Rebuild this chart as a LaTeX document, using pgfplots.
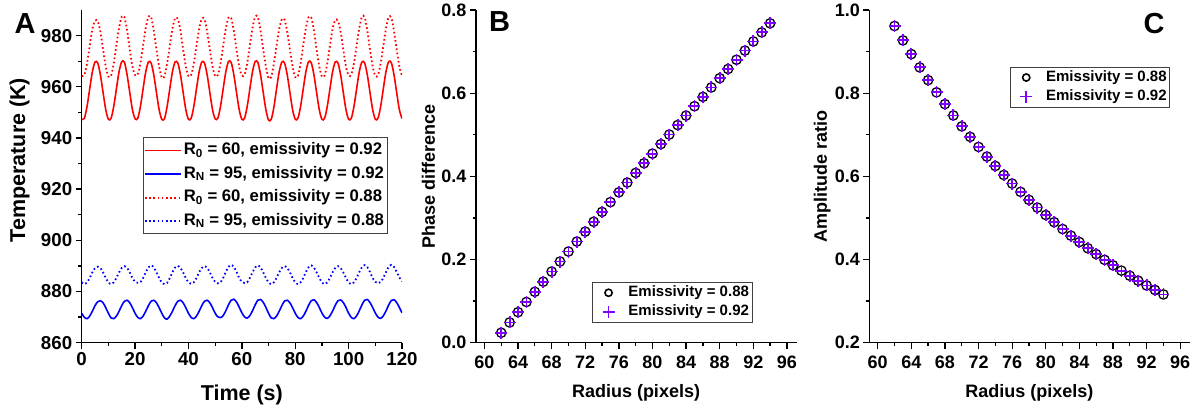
\documentclass[border=0pt]{standalone}
\usepackage{fontspec}
\setmainfont{Liberation Sans}
\usepackage{pgfplots}
\pgfplotsset{compat=1.18}
\usepackage{pgfplotstable}
\definecolor{vio}{RGB}{128,0,255}

\pgfplotstableread{
t r d b e
0 947.3 964.2 871.5 883.6
1 947.7 964.6 869.9 882.9
2 952.3 969.1 869.4 883.6
3 959.2 976.0 870.4 885.3
4 965.9 982.6 872.3 887.5
5 969.7 985.8 874.5 889.2
6 969.3 985.6 876.0 889.7
7 964.7 981.5 876.4 889.2
8 957.8 974.6 875.6 887.5
9 951.1 968.0 873.7 885.3
10 947.3 964.0 871.5 883.6
11 947.7 964.4 869.7 882.9
12 952.3 969.1 869.4 883.6
13 959.2 976.2 870.4 885.3
14 965.9 983.0 872.3 887.5
15 969.8 987.4 874.5 889.2
16 969.6 987.2 876.2 889.9
17 964.7 982.0 876.6 889.2
18 957.8 974.6 875.6 887.5
19 951.1 968.0 873.7 885.3
20 947.5 964.6 871.5 883.8
21 947.7 964.8 869.9 883.4
22 952.3 969.1 869.4 883.6
23 959.2 976.2 870.4 885.3
24 965.9 983.0 872.3 887.5
25 969.7 987.4 874.5 889.4
26 969.3 987.2 876.2 890.2
27 964.7 982.0 876.6 889.4
28 957.8 974.6 875.6 887.5
29 951.1 968.0 873.7 885.3
30 947.3 963.6 871.5 883.6
31 947.5 964.0 869.7 882.9
32 952.3 969.1 869.2 883.4
33 959.2 976.0 870.4 885.3
34 965.9 982.8 872.3 887.5
35 969.7 986.8 874.5 889.4
36 969.3 986.6 876.2 890.0
37 964.7 981.8 876.6 889.2
38 957.8 974.6 875.6 887.5
39 951.1 968.0 873.7 885.3
40 947.3 964.2 871.5 883.6
41 947.7 964.6 869.9 883.0
42 952.3 969.1 869.4 883.6
43 959.2 976.0 870.4 885.3
44 965.9 982.6 872.3 887.5
45 969.7 986.6 874.5 889.2
46 969.3 986.4 876.2 889.9
47 964.7 981.5 876.6 889.2
48 957.8 974.6 875.6 887.5
49 951.1 968.0 873.7 885.3
50 947.5 964.2 871.5 883.8
51 947.7 964.6 870.1 883.2
52 952.3 969.1 869.8 883.6
53 959.2 976.0 870.6 885.3
54 965.9 982.8 872.5 887.7
55 969.9 987.0 874.8 889.6
56 969.5 986.8 876.6 890.4
57 964.7 981.8 877.0 889.6
58 957.8 974.6 875.9 887.7
59 951.1 968.0 873.9 885.3
60 947.3 964.4 871.7 883.8
61 947.7 964.8 870.1 883.3
62 952.3 969.1 869.6 883.6
63 959.2 976.2 870.6 885.3
64 965.9 983.0 872.5 887.5
65 969.9 987.4 874.8 889.4
66 969.5 987.2 876.6 890.2
67 964.7 982.0 876.9 889.4
68 957.8 974.6 875.8 887.5
69 951.1 968.0 873.8 885.3
70 947.0 963.4 871.5 883.6
71 947.3 963.8 869.7 882.9
72 952.0 969.1 869.4 883.6
73 959.2 976.0 870.4 885.3
74 965.9 982.6 872.3 887.5
75 969.7 986.4 874.5 889.2
76 969.3 986.2 876.3 889.9
77 964.7 981.5 876.6 889.2
78 957.8 974.6 875.6 887.5
79 951.1 968.0 873.7 885.3
80 947.3 963.8 871.5 883.6
81 947.7 964.2 869.9 882.9
82 952.3 969.1 869.4 883.6
83 959.2 976.2 870.4 885.3
84 965.9 983.0 872.3 887.6
85 969.8 987.2 874.6 889.5
86 969.4 987.0 876.4 890.2
87 964.7 982.0 876.8 889.4
88 957.8 974.6 875.7 887.5
89 951.1 968.0 873.8 885.3
90 947.3 964.0 871.6 883.6
91 947.7 964.4 870.0 882.9
92 952.3 969.1 869.5 883.6
93 959.2 976.0 870.5 885.3
94 965.9 982.6 872.4 887.5
95 969.7 986.0 874.6 889.2
96 969.3 985.8 876.4 889.9
97 964.7 981.5 876.7 889.2
98 957.8 974.6 875.7 887.5
99 951.1 968.0 873.8 885.3
100 947.3 964.4 871.5 883.6
101 947.7 964.8 869.9 882.9
102 952.3 969.1 869.4 883.6
103 959.2 976.2 870.5 885.3
104 965.9 983.0 872.5 887.6
105 969.7 987.4 874.8 889.5
106 969.3 987.2 876.6 890.3
107 964.7 982.0 876.9 889.5
108 957.8 974.6 875.7 887.6
109 951.1 968.0 873.8 885.3
110 947.3 964.2 871.6 883.8
111 947.7 964.6 870.0 883.2
112 952.3 969.1 869.5 883.7
113 959.2 976.0 870.5 885.3
114 965.9 982.8 872.4 887.6
115 969.8 987.2 874.7 889.6
116 969.4 987.0 876.5 890.4
117 964.7 981.8 876.8 889.6
118 957.8 974.6 875.7 887.7
119 951.1 968.0 873.8 885.5
120 947.6 964.2 871.7 884.0
}\tableA

\pgfplotstableread{
r p a
62 0.0240 0.9615
63 0.0487 0.9270
64 0.0734 0.8939
65 0.0979 0.8620
66 0.1224 0.8314
67 0.1467 0.8020
68 0.1710 0.7737
69 0.1952 0.7464
70 0.2192 0.7202
71 0.2432 0.6950
72 0.2671 0.6708
73 0.2908 0.6475
74 0.3145 0.6250
75 0.3381 0.6034
76 0.3616 0.5827
77 0.3850 0.5627
78 0.4083 0.5434
79 0.4315 0.5249
80 0.4546 0.5070
81 0.4776 0.4898
82 0.5005 0.4733
83 0.5233 0.4573
84 0.5461 0.4420
85 0.5687 0.4272
86 0.5912 0.4130
87 0.6137 0.3992
88 0.6360 0.3860
89 0.6582 0.3733
90 0.6804 0.3610
91 0.7024 0.3491
92 0.7244 0.3377
93 0.7462 0.3267
94 0.7680 0.3161
}\tableBC

\pgfplotsset{
  myax/.style={
    scale only axis,
    anchor=south west,
    height=332.7pt,
    axis x line*=bottom,
    axis y line*=left,
    axis line style={line width=1.5pt,-},
    tick align=outside,
    major tick length=6pt,
    minor tick length=3.5pt,
    tick style={line width=1.3pt,black},
    minor tick num=1,
    /pgf/number format/assume math mode=true,
    tick label style={font=\bfseries\fontsize{18}{18}\selectfont},
    label style={font=\bfseries\fontsize{18}{18}\selectfont},
    ylabel style={anchor=center},
    xlabel style={anchor=center},
  },
  scat/.style={
    legend cell align=left,
    legend image code/.code={\path (-14pt,0pt) (17pt,0pt); \draw[##1] plot coordinates {(0pt,0pt)};},
    legend style={draw=black!75, line width=0.9pt,
      font=\bfseries\fontsize{15}{15}\selectfont, inner sep=1pt,
      nodes={inner xsep=2pt, inner ysep=2.5pt, text height=11pt, text depth=3pt}},
    xmin=59, xmax=97.2,
    xtick={60,64,...,96},
    xticklabel style={yshift=-4pt},
    yticklabel style={/pgf/number format/.cd,fixed,fixed zerofill,precision=1},
    xlabel={Radius (pixels)},
    xlabel style={at={(axis description cs:0.4985,-0.150)}},
  },
  circ/.style={only marks, mark=o, mark size=4.7pt, black, line width=1.3pt,
    legend image post style={mark size=3.6pt, line width=1.6pt}},
  plus/.style={only marks, mark=+, mark size=6pt, vio, line width=1.8pt,
    legend image post style={mark size=6pt, line width=1.8pt}},
}

\begin{document}
\begin{tikzpicture}
\useasboundingbox (0,0) rectangle (1203pt,413pt);

% ---------- Panel A ----------
\begin{axis}[myax,
  at={(81.7pt,70.3pt)}, width=320.3pt,
  xmin=0, xmax=120, ymin=860, ymax=990,
  xtick={0,20,...,120}, ytick={860,880,...,980},
  tick label style={font=\bfseries\fontsize{18.7}{18.7}\selectfont},
  label style={font=\bfseries\fontsize{21.5}{21.5}\selectfont},
  xlabel={Time (s)},
  ylabel={Temperature (K)},
  xlabel style={at={(axis description cs:0.5,-0.158)}},
  ylabel style={at={(axis description cs:-0.1936,0.549)}},
  legend cell align=left,
  legend image code/.code={\draw[#1] (0pt,0pt) -- (36pt,0pt);},
  legend style={at={(axis description cs:0.19,0.617)}, anchor=north west,
    draw=black!75, line width=0.9pt,
    font=\bfseries\fontsize{16.7}{16.7}\selectfont, inner sep=1pt,
    nodes={inner xsep=2pt, inner ysep=4pt, text height=12pt, text depth=3.5pt}},
]
\addplot[red, line width=1.6pt, smooth, legend image post style={line width=1.6pt}] table[x=t,y=r] {\tableA};
\addlegendentry{R\textsubscript{0} = 60, emissivity = 0.92}
\addplot[blue, line width=1.6pt, smooth, legend image post style={line width=1.6pt}] table[x=t,y=b] {\tableA};
\addlegendentry{R\textsubscript{N} = 95, emissivity = 0.92}
\addplot[red, line width=1.8pt, smooth, dash pattern=on 1.6pt off 2.6pt] table[x=t,y=d] {\tableA};
\addlegendentry{R\textsubscript{0} = 60, emissivity = 0.88}
\addplot[blue, line width=1.8pt, smooth, dash pattern=on 1.6pt off 2.6pt] table[x=t,y=e] {\tableA};
\addlegendentry{R\textsubscript{N} = 95, emissivity = 0.88}
\end{axis}

% ---------- Panel B ----------
\begin{axis}[myax, scat,
  at={(476pt,70.3pt)}, width=321pt,
  ymin=0, ymax=0.8,
  ytick={0,0.2,...,0.8},
  ylabel={Phase difference},
  ylabel style={at={(axis description cs:-0.148,0.499)}},
  legend style={at={(axis description cs:0.362,0.183)}, anchor=north west},
]
\addplot[circ] table[x=r,y=p] {\tableBC};
\addlegendentry{Emissivity = 0.88}
\addplot[plus] table[x=r,y=p] {\tableBC};
\addlegendentry{Emissivity = 0.92}
\end{axis}

% ---------- Panel C ----------
\begin{axis}[myax, scat,
  at={(869.3pt,70.3pt)}, width=321pt,
  ymin=0.2, ymax=1.0,
  ytick={0.2,0.4,...,1.0},
  ylabel={Amplitude ratio},
  ylabel style={at={(axis description cs:-0.147,0.499)}},
  legend style={at={(axis description cs:0.438,0.830)}, anchor=north west},
]
\addplot[circ] table[x=r,y=a] {\tableBC};
\addlegendentry{Emissivity = 0.88}
\addplot[plus] table[x=r,y=a] {\tableBC};
\addlegendentry{Emissivity = 0.92}
\end{axis}

% panel letters
\node[font=\bfseries\fontsize{29}{29}\selectfont] at (25pt,389pt) {A};
\node[font=\bfseries\fontsize{29}{29}\selectfont] at (499.5pt,391.3pt) {B};
\node[font=\bfseries\fontsize{29}{29}\selectfont] at (1154pt,389pt) {C};
\end{tikzpicture}
\end{document}
